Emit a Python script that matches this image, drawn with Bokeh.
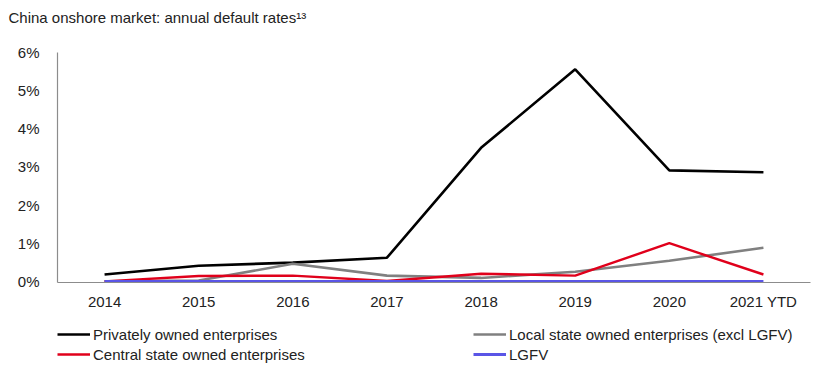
from bokeh.plotting import figure
from bokeh.models import Legend, LegendItem, PrintfTickFormatter, Range1d, Title
from bokeh.layouts import column
from bokeh.embed import file_html
from bokeh.resources import INLINE

years = ["2014", "2015", "2016", "2017", "2018", "2019", "2020", "2021 YTD"]
private = [0.18, 0.41, 0.49, 0.62, 3.50, 5.56, 2.91, 2.86]
local_soe = [0.0, 0.02, 0.46, 0.15, 0.09, 0.25, 0.54, 0.88]
central_soe = [0.0, 0.14, 0.15, 0.01, 0.20, 0.15, 1.00, 0.18]
lgfv = [0.0, 0.0, 0.0, 0.0, 0.0, 0.0, 0.0, 0.0]
series_names = ["Privately owned enterprises", "Local state owned enterprises (excl LGFV)",
                "Central state owned enterprises", "LGFV"]
title_text = "China onshore market: annual default rates\u00b9\u00b3"

FONT = "'Liberation Sans Narrow', 'Arial Narrow', 'Liberation Sans', sans-serif"
COLORS = ["#000000", "#808080", "#e0001b", "#5a55e6"]
WIDTHS = [2.6, 2.6, 2.4, 2.8]

p = figure(x_range=years, y_range=Range1d(-0.03, 6), width=819, height=312,
           output_backend="svg", toolbar_location=None,
           min_border_left=57, min_border_right=9, min_border_top=52, min_border_bottom=29)
p.outline_line_color = None
p.xgrid.visible = False
p.ygrid.visible = False
p.border_fill_color = "white"

for ax in (p.xaxis[0], p.yaxis[0]):
    ax.axis_line_color = "#8c8c8c"
    ax.axis_line_width = 1.2
    ax.major_tick_line_color = None
    ax.minor_tick_line_color = None
    ax.major_label_text_font = FONT
    ax.major_label_text_font_size = "15px"
    ax.major_label_text_color = "#222222"
p.yaxis[0].formatter = PrintfTickFormatter(format="%d%%")
p.yaxis[0].major_label_standoff = 12
p.xaxis[0].major_label_standoff = 4

p.title = Title(text=title_text, align="left", offset=-49, vertical_align="bottom",
                standoff=0, text_font=FONT, text_font_size="15px", text_color="#222222",
                text_font_style="normal")
# inner spacer panel between frame and title
p.add_layout(Title(text=" ", text_font_size="1px", standoff=24), "above")

data = [private, local_soe, central_soe, lgfv]
for vals, c, w in zip(data, COLORS, WIDTHS):
    p.line(years, vals, line_color=c, line_width=w)

# legend panel (frame aligned with the main plot's frame)
q = figure(width=819, height=64, x_range=Range1d(0, 1), y_range=Range1d(0, 1),
           output_backend="svg", toolbar_location=None,
           min_border_left=57, min_border_right=9, min_border_top=0, min_border_bottom=0)
q.axis.visible = False
q.xgrid.visible = False
q.ygrid.visible = False
q.outline_line_color = None
nan = float("nan")
rs = [q.line([nan], [nan], line_color=c, line_width=w) for c, w in zip(COLORS, WIDTHS)]

def mk_legend(items, loc):
    return Legend(items=items, location=loc, orientation="vertical",
                  label_text_font=FONT, label_text_font_size="15px",
                  label_text_color="#222222", glyph_width=33, glyph_height=18,
                  label_standoff=3, spacing=2, padding=0, margin=0,
                  border_line_color=None, background_fill_alpha=0,
                  label_height=18)

lg1 = mk_legend([LegendItem(label=series_names[0], renderers=[rs[0]]),
                 LegendItem(label=series_names[2], renderers=[rs[2]])], (0, 13))
lg2 = mk_legend([LegendItem(label=series_names[1], renderers=[rs[1]]),
                 LegendItem(label=series_names[3], renderers=[rs[3]])], (416, 13))
q.add_layout(lg1, "center")
q.add_layout(lg2, "center")

layout = column(p, q, spacing=0)
open("out.html", "w").write(file_html(layout, INLINE))
